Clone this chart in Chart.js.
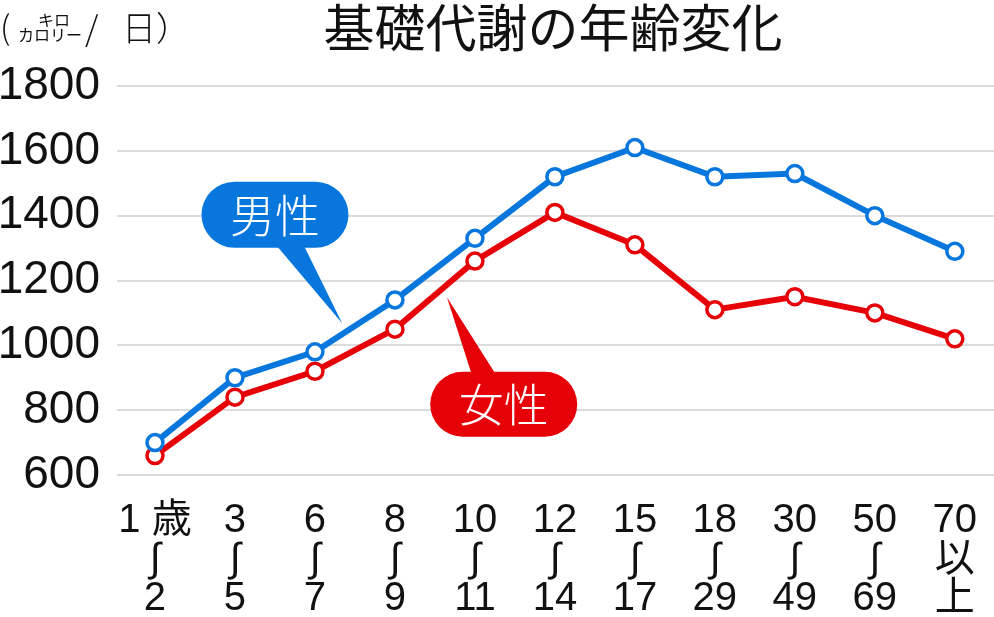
<!DOCTYPE html>
<html>
<head>
<meta charset="utf-8">
<script src="https://cdn.jsdelivr.net/npm/chart.js@4.4.1/dist/chart.umd.min.js"></script>
<style>
  html, body { margin: 0; padding: 0; background: #fff; }
  #wrap { width: 994px; height: 617px; position: relative; }
</style>
</head>
<body>
<div id="wrap"><canvas id="bmrChart"></canvas></div>
<script>
// 年齢区分 (3段の目盛りラベル)
const categories = [
    ['1 歳', '∫', '2'], ['3', '∫', '5'], ['6', '∫', '7'], ['8', '∫', '9'],
    ['10', '∫', '11'], ['12', '∫', '14'], ['15', '∫', '17'], ['18', '∫', '29'],
    ['30', '∫', '49'], ['50', '∫', '69'], ['70', '以', '上']
];
const maleValues = [700, 900, 980, 1140, 1330, 1520, 1610, 1520, 1530, 1400, 1290];
const femaleValues = [660, 840, 920, 1050, 1260, 1410, 1310, 1110, 1150, 1100, 1020];
const yTicks = [600, 800, 1000, 1200, 1400, 1600, 1800];
const titleText = '基礎代謝の年齢変化';
const seriesNames = ['男性', '女性'];

const BLUE = '#0777dd';
const RED = '#e60008';
const NUMFONT = "'Liberation Sans', 'Noto Sans CJK JP', 'DejaVu Sans'";
const JPFONT = "'Noto Sans CJK JP', sans-serif";

// タイトル・単位・吹き出し
const decorPlugin = {
    id: 'decor',
    afterDatasetsDraw(chart) {
        const c = chart.ctx;
        const xs = chart.scales.x, ys = chart.scales.y;
        c.save();
        // title
        c.fillStyle = '#111';
        c.font = '400 51px ' + JPFONT;
        c.textAlign = 'center';
        c.textBaseline = 'middle';
        c.fillText(titleText, 553, 28);
        // unit
        c.textAlign = 'left';
        c.font = '300 33px ' + JPFONT;
        c.fillText('(', 0, 27);
        c.font = '16px ' + JPFONT;
        c.fillText('キロ', 38, 20);
        c.fillText('カロリー', 18, 35);
        c.font = '300 34px ' + JPFONT;
        c.fillText('/', 85, 28);
        c.fillText('日）', 122, 28);

        function callout(color, text, cx, cy, w, h, base1, base2, tip) {
            c.fillStyle = color;
            c.beginPath();
            c.roundRect(cx - w / 2, cy - h / 2, w, h, h / 2);
            c.fill();
            c.beginPath();
            c.moveTo(base1[0], base1[1]);
            c.lineTo(base2[0], base2[1]);
            c.lineTo(tip[0], tip[1]);
            c.closePath();
            c.fill();
            c.fillStyle = '#fff';
            c.font = '300 45px ' + JPFONT;
            c.textAlign = 'center';
            c.textBaseline = 'middle';
            c.fillText(text, cx, cy + 1);
        }
        // 男性
        const mx = xs.getPixelForValue(1.5), my = ys.getPixelForValue(1400);
        callout(BLUE, seriesNames[0], mx, my - 1, 147, 66,
            [mx, my + 28], [mx + 28, my + 28],
            [xs.getPixelForValue(2.34), ys.getPixelForValue(1068)]);
        // 女性
        const fx = xs.getPixelForValue(4.36), fy = ys.getPixelForValue(818);
        callout(RED, seriesNames[1], fx, fy, 147, 65,
            [fx - 32, fy - 30], [fx - 8, fy - 30],
            [xs.getPixelForValue(3.65), ys.getPixelForValue(1148)]);
        c.restore();
    }
};

const ctx = document.getElementById('bmrChart');
const myChart = new Chart(ctx, {
    type: 'line',
    data: {
        datasets: [{
            label: seriesNames[0],
            data: maleValues.map((v, i) => ({ x: i, y: v })),
            borderColor: BLUE,
            borderWidth: 6,
            pointRadius: 8,
            pointBorderWidth: 3.5,
            pointBackgroundColor: '#fff',
            pointBorderColor: BLUE,
            tension: 0
        }, {
            label: seriesNames[1],
            data: femaleValues.map((v, i) => ({ x: i, y: v })),
            borderColor: RED,
            borderWidth: 6,
            pointRadius: 8,
            pointBorderWidth: 3.5,
            pointBackgroundColor: '#fff',
            pointBorderColor: RED,
            tension: 0
        }]
    },
    options: {
        responsive: true,
        maintainAspectRatio: false,
        animation: false,
        layout: { autoPadding: false, padding: { top: 86, right: 0, bottom: 0, left: 0 } },
        scales: {
            x: {
                type: 'linear',
                min: -0.475,
                max: 10.49,
                grid: { display: false, drawTicks: false },
                border: { display: false },
                afterBuildTicks(scale) {
                    scale.ticks = categories.map((c, i) => ({ value: i }));
                },
                afterFit(scale) {
                    scale.height = 142;
                    scale.paddingLeft = 0;
                    scale.paddingRight = 0;
                },
                ticks: {
                    autoSkip: false,
                    maxRotation: 0,
                    padding: 26,
                    color: '#111',
                    font: { family: NUMFONT, size: 40, lineHeight: 0.98 },
                    callback: (v) => categories[v]
                }
            },
            y: {
                min: 600,
                max: 1800,
                afterBuildTicks(scale) {
                    scale.ticks = yTicks.map(v => ({ value: v }));
                },
                afterFit(scale) {
                    scale.width = 117;
                },
                grid: { color: '#dcdcdc', lineWidth: 2, drawTicks: false },
                border: { display: false },
                ticks: {
                    autoSkip: false,
                    padding: 17,
                    color: '#111',
                    font: { family: NUMFONT, size: 46 },
                    callback: (v) => String(v)
                }
            }
        },
        plugins: {
            legend: { display: false },
            tooltip: { enabled: false },
            title: { display: false }
        }
    },
    plugins: [decorPlugin]
});
</script>
</body>
</html>
